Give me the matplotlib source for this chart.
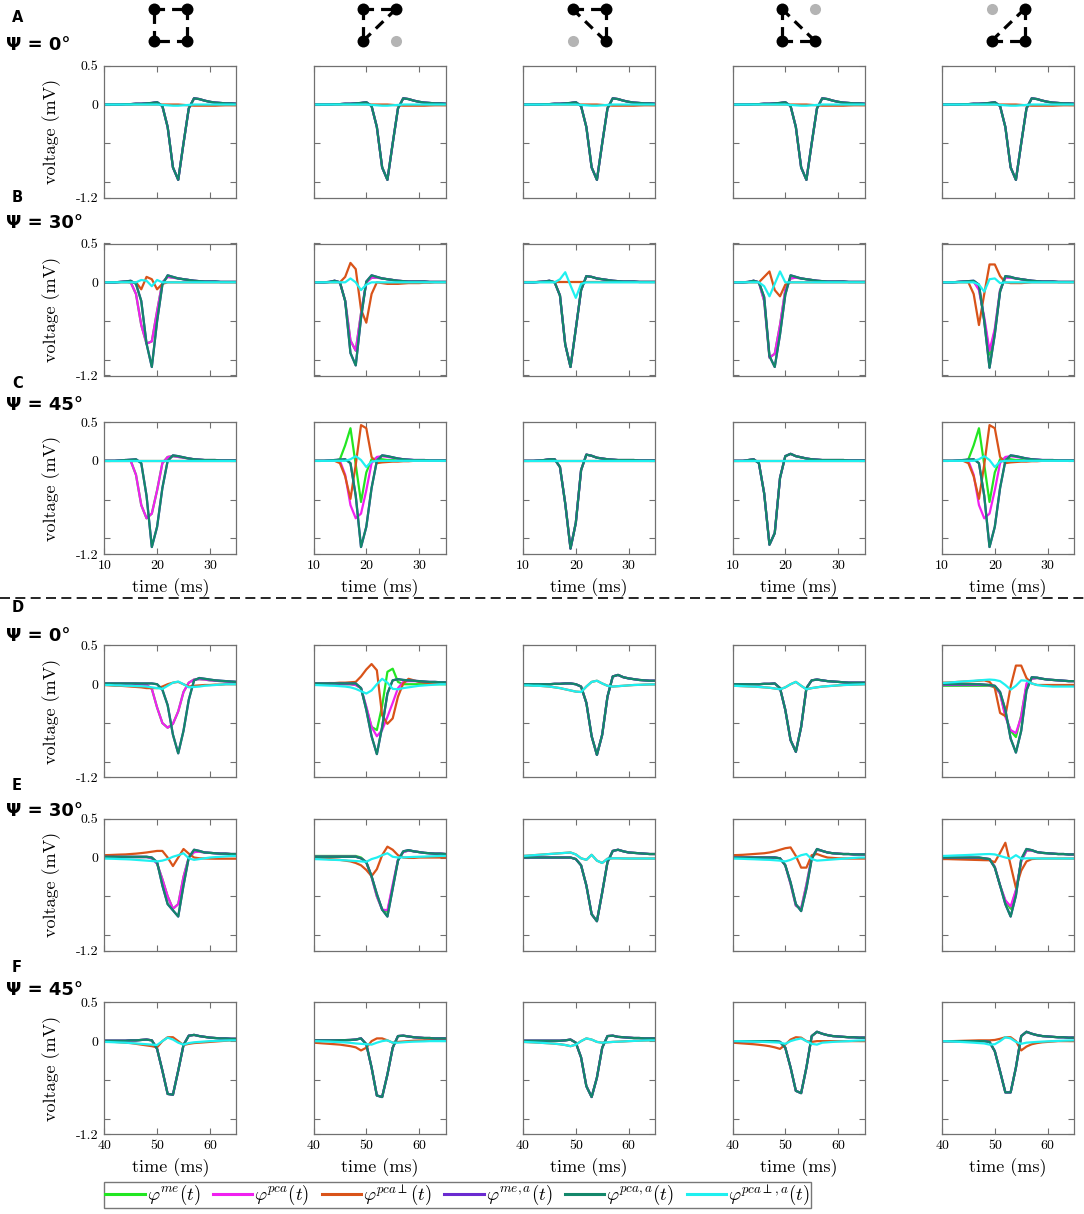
import matplotlib
matplotlib.use('Agg')
import matplotlib.pyplot as plt
from matplotlib.lines import Line2D

plt.rcParams['mathtext.fontset'] = 'cm'
plt.rcParams['axes.unicode_minus'] = False

# ---------------- data ----------------
t_top = [10, 11, 12, 13, 14, 15, 16, 17, 18, 19, 20, 21, 22, 23, 24, 25, 26, 27, 28, 29, 30, 31, 32, 33, 34, 35]
t_bot = [40, 41, 42, 43, 44, 45, 46, 47, 48, 49, 50, 51, 52, 53, 54, 55, 56, 57, 58, 59, 60, 61, 62, 63, 64, 65]
flat_top = [0.0] * 26

# Row A (Psi = 0, first setup)
a_main = [0, 0, 0, 0, 0.005, 0.005, 0.01, 0.01, 0.015, 0.02,
          0.03, -0.02, -0.29, -0.81, -0.97, -0.5, -0.05, 0.08, 0.07, 0.05,
          0.035, 0.025, 0.02, 0.015, 0.015, 0.01]
a_perp = [0, 0, 0, 0, 0, 0, 0, 0, 0, 0,
          0, 0, 0, 0, 0, -0.005, -0.01, -0.015, -0.015, -0.015,
          -0.015, -0.015, -0.012, -0.01, -0.01, -0.01]
a_perp_a = [0, 0, 0, 0, 0, 0, 0, 0, 0, 0,
            0, -0.005, -0.01, -0.015, -0.015, -0.01, -0.005, 0, 0, 0,
            0, 0, 0, 0, 0, 0]

# Row B (Psi = 30)
b1_pca_a = [0, 0, 0, 0.005, 0.01, 0.02, -0.02, -0.24, -0.79, -1.09,
            -0.5, -0.03, 0.09, 0.07, 0.05, 0.04, 0.03, 0.02, 0.015, 0.01,
            0.01, 0.01, 0.005, 0.005, 0.005, 0.005]
b1_pca = [0, 0, 0, 0.005, 0.01, 0.0, -0.15, -0.55, -0.79, -0.76,
          -0.37, 0.0, 0.07, 0.06, 0.05, 0.04, 0.03, 0.02, 0.015, 0.01,
          0.01, 0.01, 0.005, 0.005, 0.005, 0.005]
b1_perp = [0, 0, 0, 0, 0, 0, 0, -0.09, 0.07, 0.04,
           -0.09, -0.02, 0, 0, 0, 0, 0, 0, 0, 0,
           0, 0, 0, 0, 0, 0]
b1_perp_a = [0, 0, 0, 0, 0, 0, 0, 0.03, 0.02, -0.05,
             0.03, 0, 0, 0, 0, 0, 0, 0, 0, 0,
             0, 0, 0, 0, 0, 0]
b2_pca_a = [0, 0, 0, 0.005, 0.02, 0.0, -0.24, -0.91, -1.07, -0.46,
            0.01, 0.09, 0.07, 0.05, 0.04, 0.03, 0.02, 0.015, 0.01, 0.01,
            0.01, 0.01, 0.005, 0.005, 0.005, 0.005]
b2_pca = [0, 0, 0, 0.005, 0.02, 0.0, -0.24, -0.75, -0.88, -0.4,
          0.0, 0.06, 0.06, 0.05, 0.04, 0.03, 0.02, 0.015, 0.01, 0.01,
          0.01, 0.01, 0.005, 0.005, 0.005, 0.005]
b2_perp = [0, 0, 0, 0, 0, 0.0, 0.07, 0.25, 0.17, -0.35,
           -0.52, -0.15, 0.0, -0.01, -0.02, -0.02, -0.02, -0.015, -0.01, -0.01,
           -0.01, -0.005, -0.005, 0, 0, 0]
b2_perp_a = [0, 0, 0, 0, 0, 0, 0, 0.05, 0.0, -0.1,
             -0.03, 0, 0, 0, 0, 0, 0, 0, 0, 0,
             0, 0, 0, 0, 0, 0]
b3_pca_a = [0, 0, 0, 0.005, 0.01, 0.02, 0.0, -0.17, -0.8, -1.09,
            -0.6, -0.1, 0.08, 0.07, 0.05, 0.04, 0.03, 0.02, 0.015, 0.01,
            0.01, 0.01, 0.005, 0.005, 0.005, 0.005]
b3_perp_a = [0, 0, 0, 0, 0, 0, 0, 0.04, 0.13, -0.04,
             -0.2, -0.02, 0, 0, 0, 0, 0, 0, 0, 0,
             0, 0, 0, 0, 0, 0]
b4_pca_a = [0, 0, 0, 0.005, 0.02, 0.0, -0.19, -0.95, -1.09, -0.67,
            -0.16, 0.09, 0.07, 0.05, 0.04, 0.03, 0.02, 0.015, 0.01, 0.01,
            0.01, 0.01, 0.005, 0.005, 0.005, 0.005]
b4_pca = [0, 0, 0, 0.005, 0.02, 0.0, -0.24, -0.97, -0.92, -0.55,
          -0.1, 0.05, 0.06, 0.05, 0.04, 0.03, 0.02, 0.015, 0.01, 0.01,
          0.01, 0.01, 0.005, 0.005, 0.005, 0.005]
b4_perp = [0, 0, 0, 0, 0, 0, 0.07, 0.14, -0.1, -0.18,
           -0.03, 0, 0, 0, 0, 0, 0, 0, 0, 0,
           0, 0, 0, 0, 0, 0]
b4_perp_a = [0, 0, 0, 0, 0, 0, -0.05, -0.18, -0.02, 0.14,
             0.0, 0, 0, 0, 0, 0, 0, 0, 0, 0,
             0, 0, 0, 0, 0, 0]
b5_pca_a = [0, 0, 0, 0.005, 0.01, 0.015, 0.02, -0.03, -0.5, -1.1,
            -0.67, -0.12, 0.08, 0.07, 0.05, 0.04, 0.03, 0.02, 0.015, 0.01,
            0.01, 0.01, 0.005, 0.005, 0.005, 0.005]
b5_pca = [0, 0, 0, 0.005, 0.01, 0.01, 0.01, -0.1, -0.45, -0.88,
          -0.6, -0.1, 0.06, 0.06, 0.05, 0.04, 0.03, 0.02, 0.015, 0.01,
          0.01, 0.01, 0.005, 0.005, 0.005, 0.005]
b5_me = [0, 0, 0, 0.005, 0.01, 0.01, 0.01, -0.08, -0.48, -0.93,
         -0.62, -0.1, 0.07, 0.06, 0.05, 0.04, 0.03, 0.02, 0.015, 0.01,
         0.01, 0.01, 0.005, 0.005, 0.005, 0.005]
b5_perp = [0, 0, 0, 0, 0, 0.0, -0.15, -0.55, -0.15, 0.23,
           0.23, 0.08, 0.0, -0.01, -0.01, -0.01, -0.005, 0, 0, 0,
           0, 0, 0, 0, 0, 0]
b5_perp_a = [0, 0, 0, 0, 0, 0, 0, -0.03, -0.12, 0.04,
             0.05, -0.01, 0, 0, 0, 0, 0, 0, 0, 0,
             0, 0, 0, 0, 0, 0]

# Row C (Psi = 45)
c_pca_a = [0, 0, 0, 0.005, 0.01, 0.015, 0.02, -0.03, -0.45, -1.11,
           -0.85, -0.35, 0.0, 0.07, 0.06, 0.045, 0.03, 0.02, 0.015, 0.01,
           0.01, 0.01, 0.005, 0.005, 0.005, 0.005]
c_pca = [0, 0, 0, 0.005, 0.01, 0.0, -0.18, -0.57, -0.74, -0.68,
         -0.38, -0.03, 0.05, 0.06, 0.05, 0.04, 0.03, 0.02, 0.015, 0.01,
         0.01, 0.01, 0.005, 0.005, 0.005, 0.005]
c_me = [0, 0, 0, 0, 0.0, 0.02, 0.2, 0.42, -0.05, -0.53,
        -0.15, 0.02, 0.03, 0.02, 0.01, 0.01, 0.005, 0, 0, 0,
        0, 0, 0, 0, 0, 0]
c_perp = [0, 0, 0, 0, 0, -0.03, -0.2, -0.49, -0.05, 0.46,
          0.42, 0.05, -0.03, -0.02, -0.015, -0.01, -0.01, -0.005, -0.005, 0,
          0, 0, 0, 0, 0, 0]
c_perp_a = [0, 0, 0, 0, 0, 0, 0.0, 0.02, 0.06, 0.01,
            -0.08, -0.01, 0, 0, 0, 0, 0, 0, 0, 0,
            0, 0, 0, 0, 0, 0]
c3_pca_a = [0, 0, 0, 0.005, 0.01, 0.02, 0.02, -0.08, -0.55, -1.13,
            -0.8, -0.12, 0.08, 0.065, 0.04, 0.03, 0.02, 0.015, 0.01, 0.01,
            0.01, 0.01, 0.005, 0.005, 0.005, 0.005]
c4_pca_a = [0, 0, 0, 0.01, 0.02, -0.03, -0.42, -1.08, -0.93, -0.22,
            0.06, 0.09, 0.06, 0.045, 0.03, 0.02, 0.015, 0.01, 0.01, 0.01,
            0.01, 0.01, 0.005, 0.005, 0.005, 0.005]

# Row D (Psi = 0, second setup)
d1_pca_a = [0.01, 0.01, 0.01, 0.01, 0.01, 0.01, 0.01, 0.01, 0.01, 0.01,
            0.0, -0.07, -0.27, -0.65, -0.89, -0.6, -0.2, 0.05, 0.08, 0.07,
            0.06, 0.05, 0.045, 0.04, 0.035, 0.03]
d1_pca = [0.005, 0.005, 0.005, 0.005, 0.005, 0.005, 0.005, 0.0, -0.01, -0.06,
          -0.3, -0.5, -0.56, -0.51, -0.35, -0.1, 0.02, 0.06, 0.065, 0.06,
          0.05, 0.045, 0.04, 0.035, 0.03, 0.03]
d1_perp = [-0.01, -0.015, -0.02, -0.02, -0.025, -0.03, -0.035, -0.04, -0.05, -0.05,
           -0.05, -0.03, 0.0, 0.02, 0.03, 0.0, -0.03, -0.02, -0.015, -0.01,
           -0.01, -0.005, -0.005, 0.0, 0.0, 0.0]
d1_perp_a = [-0.01, -0.01, -0.015, -0.015, -0.02, -0.02, -0.025, -0.025, -0.03, -0.04,
             -0.05, -0.06, -0.02, 0.02, 0.035, 0.0, -0.04, -0.035, -0.03, -0.02,
             -0.015, -0.01, -0.005, 0.0, 0.0, 0.0]
d2_pca_a = [0.01, 0.01, 0.01, 0.01, 0.01, 0.01, 0.01, 0.01, 0.01, -0.05,
            -0.33, -0.67, -0.9, -0.55, -0.12, 0.05, 0.065, 0.055, 0.05, 0.045,
            0.04, 0.035, 0.03, 0.03, 0.025, 0.025]
d2_pca = [0.0, 0.0, 0.0, 0.0, 0.0, 0.0, 0.0, 0.0, -0.01, -0.05,
          -0.29, -0.55, -0.67, -0.59, -0.42, -0.24, -0.05, 0.03, 0.04, 0.04,
          0.035, 0.03, 0.025, 0.02, 0.02, 0.02]
d2_me = [0.0, 0.0, 0.0, 0.0, 0.0, 0.0, 0.0, 0.0, -0.01, -0.05,
         -0.3, -0.55, -0.59, -0.28, 0.16, 0.2, 0.03, 0.0, 0.0, 0.0,
         0.0, 0.0, 0.0, 0.0, 0.0, 0.0]
d2_perp = [0.01, 0.01, 0.01, 0.015, 0.015, 0.02, 0.02, 0.025, 0.03, 0.1,
           0.19, 0.26, 0.18, -0.4, -0.51, -0.44, -0.16, 0.01, 0.07, 0.05,
           0.03, 0.02, 0.015, 0.01, 0.01, 0.01]
d2_perp_a = [-0.01, -0.012, -0.015, -0.018, -0.02, -0.025, -0.03, -0.04, -0.06, -0.09,
             -0.12, -0.08, 0.0, 0.07, 0.02, -0.06, -0.065, -0.05, -0.04, -0.03,
             -0.02, -0.015, -0.01, -0.005, 0.0, 0.0]
d3_pca_a = [0.0, 0.0, 0.0, 0.0, 0.0, 0.0, 0.005, 0.005, 0.01, 0.01,
            0.0, -0.03, -0.24, -0.67, -0.91, -0.65, -0.16, 0.1, 0.12, 0.09,
            0.075, 0.065, 0.055, 0.05, 0.045, 0.045]
d3_perp_a = [-0.015, -0.015, -0.02, -0.02, -0.025, -0.03, -0.04, -0.05, -0.065, -0.08,
             -0.095, -0.1, -0.03, 0.03, 0.045, 0.01, -0.02, -0.03, -0.025, -0.02,
             -0.015, -0.01, -0.008, -0.005, -0.003, -0.002]
d4_pca_a = [0.0, 0.0, 0.0, 0.0, 0.0, 0.0, 0.005, 0.005, 0.01, -0.05,
            -0.33, -0.72, -0.87, -0.55, -0.05, 0.05, 0.06, 0.05, 0.04, 0.035,
            0.03, 0.025, 0.02, 0.02, 0.02, 0.02]
d4_perp_a = [-0.02, -0.022, -0.025, -0.028, -0.03, -0.035, -0.04, -0.045, -0.055, -0.065,
             -0.04, 0.0, 0.03, -0.02, -0.065, -0.05, -0.04, -0.03, -0.025, -0.02,
             -0.015, -0.01, -0.008, -0.005, -0.003, 0.0]
d5_pca_a = [0.0, 0.0, 0.0, 0.0, 0.0, 0.0, 0.0, 0.0, -0.005, -0.01,
            -0.02, -0.1, -0.33, -0.7, -0.88, -0.6, -0.08, 0.09, 0.085, 0.07,
            0.06, 0.055, 0.05, 0.045, 0.04, 0.04]
d5_pca = [-0.01, -0.01, -0.01, -0.01, -0.01, -0.01, -0.01, -0.01, -0.01, -0.015,
          -0.03, -0.12, -0.42, -0.59, -0.63, -0.42, 0.01, 0.07, 0.08, 0.07,
          0.06, 0.055, 0.05, 0.045, 0.04, 0.04]
d5_me = [-0.02, -0.02, -0.02, -0.02, -0.02, -0.02, -0.02, -0.02, -0.02, -0.02,
         -0.04, -0.12, -0.4, -0.6, -0.68, -0.4, -0.02, 0.07, 0.08, 0.07,
         0.06, 0.055, 0.05, 0.045, 0.04, 0.04]
d5_perp = [0.02, 0.022, 0.025, 0.03, 0.033, 0.036, 0.04, 0.045, 0.05, 0.03,
           -0.05, -0.37, -0.41, -0.03, 0.24, 0.24, 0.08, 0.01, -0.01, -0.01,
           -0.01, -0.01, -0.01, -0.01, -0.01, -0.01]
d5_perp_a = [0.015, 0.02, 0.025, 0.03, 0.035, 0.04, 0.045, 0.05, 0.055, 0.06,
             0.055, 0.04, -0.01, -0.07, -0.02, 0.05, 0.045, 0.01, -0.01, -0.02,
             -0.025, -0.03, -0.03, -0.03, -0.03, -0.03]

# Row E (Psi = 30, second setup)
e1_pca_a = [0.01, 0.01, 0.01, 0.01, 0.01, 0.01, 0.01, 0.01, 0.01, 0.0,
            -0.06, -0.36, -0.6, -0.68, -0.76, -0.36, 0.0, 0.1, 0.085, 0.065,
            0.06, 0.055, 0.05, 0.05, 0.045, 0.045]
e1_pca = [0.005, 0.005, 0.005, 0.005, 0.005, 0.005, 0.005, 0.005, 0.005, -0.01,
          -0.08, -0.28, -0.5, -0.66, -0.6, -0.25, 0.0, 0.07, 0.075, 0.065,
          0.06, 0.055, 0.05, 0.05, 0.045, 0.045]
e1_perp = [0.03, 0.032, 0.035, 0.038, 0.04, 0.045, 0.05, 0.057, 0.065, 0.075,
           0.085, 0.085, 0.0, -0.11, 0.0, 0.11, 0.05, 0.0, -0.01, -0.012,
           -0.014, -0.015, -0.015, -0.015, -0.015, -0.015]
e1_perp_a = [-0.013, -0.015, -0.017, -0.02, -0.022, -0.025, -0.03, -0.035, -0.04, -0.045,
             -0.05, -0.04, -0.02, 0.01, 0.03, 0.055, -0.01, -0.03, -0.02, -0.01,
             0.0, 0.005, 0.01, 0.015, 0.02, 0.02]
e2_pca_a = [0.01, 0.01, 0.01, 0.01, 0.01, 0.01, 0.01, 0.01, 0.01, -0.01,
            -0.06, -0.24, -0.47, -0.67, -0.76, -0.4, -0.04, 0.08, 0.095, 0.08,
            0.07, 0.06, 0.055, 0.05, 0.05, 0.045]
e2_pca = [0.01, 0.01, 0.01, 0.01, 0.01, 0.01, 0.01, 0.01, 0.01, -0.01,
          -0.06, -0.25, -0.5, -0.67, -0.68, -0.35, -0.03, 0.07, 0.09, 0.08,
          0.07, 0.06, 0.055, 0.05, 0.05, 0.045]
e2_me = [0.02, 0.02, 0.02, 0.02, 0.02, 0.02, 0.02, 0.02, 0.02, 0.0,
         -0.06, -0.25, -0.5, -0.67, -0.7, -0.37, -0.03, 0.07, 0.09, 0.08,
         0.07, 0.06, 0.055, 0.05, 0.05, 0.045]
e2_perp = [-0.01, -0.012, -0.015, -0.02, -0.025, -0.03, -0.04, -0.05, -0.07, -0.1,
           -0.16, -0.24, -0.15, 0.03, 0.14, 0.1, 0.03, 0.0, -0.005, -0.005,
           0.0, 0.0, 0.0, 0.0, 0.0, 0.0]
e2_perp_a = [-0.02, -0.022, -0.025, -0.028, -0.03, -0.033, -0.036, -0.04, -0.045, -0.05,
             -0.055, -0.02, 0.0, 0.03, 0.055, 0.01, 0.0, 0.002, 0.005, 0.008,
             0.01, 0.012, 0.015, 0.017, 0.02, 0.02]
e3_pca_a = [0.0, 0.0, 0.0, 0.0, 0.0, 0.0, 0.0, 0.0, 0.0, 0.0,
            -0.02, -0.1, -0.36, -0.73, -0.82, -0.45, -0.06, 0.085, 0.1, 0.08,
            0.065, 0.06, 0.055, 0.05, 0.045, 0.045]
e3_perp_a = [0.02, 0.025, 0.03, 0.035, 0.04, 0.045, 0.05, 0.055, 0.06, 0.065,
             0.04, -0.01, -0.03, 0.035, -0.04, -0.07, -0.015, -0.01, -0.01, -0.012,
             -0.013, -0.013, -0.013, -0.013, -0.013, -0.013]
e4_pca_a = [0.0, 0.0, 0.0, 0.0, 0.0, 0.0, 0.0, 0.0, 0.0, -0.01,
            -0.1, -0.32, -0.6, -0.69, -0.4, -0.02, 0.11, 0.085, 0.065, 0.055,
            0.05, 0.045, 0.045, 0.04, 0.04, 0.04]
e4_pca = [0.0, 0.0, 0.0, 0.0, 0.0, 0.0, 0.0, 0.0, 0.0, -0.01,
          -0.1, -0.34, -0.62, -0.66, -0.35, 0.0, 0.1, 0.085, 0.065, 0.055,
          0.05, 0.045, 0.045, 0.04, 0.04, 0.04]
e4_perp = [0.03, 0.032, 0.035, 0.04, 0.045, 0.05, 0.055, 0.065, 0.08, 0.1,
           0.12, 0.13, 0.02, -0.13, -0.13, 0.03, 0.045, 0.02, 0.0, -0.005,
           -0.01, -0.012, -0.013, -0.013, -0.013, -0.013]
e4_perp_a = [-0.013, -0.015, -0.017, -0.02, -0.022, -0.025, -0.028, -0.03, -0.035, -0.04,
             -0.05, -0.03, 0.0, 0.03, 0.045, -0.02, -0.04, -0.035, -0.03, -0.025,
             -0.02, -0.015, -0.01, -0.005, 0.0, 0.0]
e5_pca_a = [0.0, 0.0, 0.0, 0.0, 0.0, 0.0, 0.0, 0.0, -0.01, -0.02,
            -0.13, -0.36, -0.6, -0.76, -0.49, -0.02, 0.11, 0.095, 0.07, 0.06,
            0.055, 0.05, 0.045, 0.045, 0.04, 0.04]
e5_pca = [-0.01, -0.01, -0.01, -0.01, -0.01, -0.01, -0.01, -0.01, -0.015, -0.02,
          -0.12, -0.36, -0.55, -0.63, -0.42, -0.05, 0.09, 0.09, 0.07, 0.06,
          0.055, 0.05, 0.045, 0.045, 0.04, 0.04]
e5_me = [-0.01, -0.01, -0.01, -0.01, -0.01, -0.01, -0.01, -0.01, -0.015, -0.02,
         -0.12, -0.36, -0.56, -0.66, -0.43, -0.05, 0.09, 0.09, 0.07, 0.06,
         0.055, 0.05, 0.045, 0.045, 0.04, 0.04]
e5_perp = [-0.02, -0.02, -0.022, -0.024, -0.026, -0.028, -0.03, -0.032, -0.034, -0.035,
           -0.06, 0.06, 0.19, -0.1, -0.39, -0.17, -0.05, -0.02, -0.015, -0.013,
           -0.013, -0.013, -0.013, -0.013, -0.013, -0.013]
e5_perp_a = [0.02, 0.022, 0.025, 0.028, 0.03, 0.033, 0.036, 0.04, 0.043, 0.045,
             0.04, 0.02, 0.0, -0.015, 0.03, -0.013, -0.01, -0.01, -0.012, -0.013,
             -0.013, -0.013, -0.013, -0.013, -0.013, -0.013]

# Row F (Psi = 45, second setup)
f1_pca_a = [0.005, 0.005, 0.005, 0.005, 0.005, 0.01, 0.01, 0.015, 0.02, 0.01,
            -0.1, -0.38, -0.68, -0.69, -0.38, -0.05, 0.07, 0.08, 0.065, 0.055,
            0.045, 0.04, 0.035, 0.035, 0.03, 0.03]
f1_perp = [0.0, -0.005, -0.01, -0.015, -0.02, -0.025, -0.035, -0.045, -0.055, -0.065,
           -0.08, 0.0, 0.05, 0.05, 0.0, -0.05, -0.035, -0.025, -0.02, -0.015,
           -0.01, -0.005, 0.0, 0.005, 0.01, 0.01]
f1_perp_a = [-0.01, -0.012, -0.015, -0.018, -0.02, -0.025, -0.03, -0.035, -0.04, -0.045,
             -0.05, 0.0, 0.045, 0.02, -0.02, -0.045, -0.025, -0.015, -0.01, -0.005,
             0.0, 0.003, 0.005, 0.008, 0.01, 0.01]
f2_pca_a = [0.01, 0.01, 0.01, 0.01, 0.01, 0.012, 0.013, 0.015, 0.02, 0.035,
            -0.04, -0.34, -0.7, -0.72, -0.43, -0.085, 0.065, 0.07, 0.06, 0.05,
            0.045, 0.04, 0.04, 0.035, 0.035, 0.035]
f2_perp = [-0.02, -0.025, -0.03, -0.035, -0.04, -0.045, -0.055, -0.065, -0.08, -0.12,
           -0.085, 0.0, 0.035, 0.035, 0.01, -0.02, -0.01, -0.005, 0.0, 0.005,
           0.008, 0.01, 0.012, 0.013, 0.015, 0.015]
f2_perp_a = [0.0, -0.002, -0.004, -0.006, -0.01, -0.013, -0.017, -0.022, -0.03, -0.035,
             -0.04, -0.045, -0.02, 0.0, 0.01, -0.02, -0.02, -0.015, -0.01, -0.007,
             -0.005, -0.003, 0.0, 0.0, 0.0, 0.0]
f3_pca_a = [0.005, 0.005, 0.005, 0.005, 0.005, 0.005, 0.005, 0.005, 0.01, 0.02,
            -0.02, -0.21, -0.58, -0.72, -0.47, -0.085, 0.065, 0.07, 0.055, 0.05,
            0.045, 0.04, 0.04, 0.035, 0.035, 0.035]
f3_perp_a = [-0.01, -0.013, -0.016, -0.02, -0.024, -0.028, -0.033, -0.04, -0.05, -0.065,
             -0.045, 0.0, 0.035, 0.02, -0.01, -0.02, -0.015, -0.01, -0.007, -0.004,
             0.0, 0.003, 0.005, 0.008, 0.01, 0.01]
f4_pca_a = [0.0, 0.0, 0.0, 0.0, 0.0, 0.0, 0.0, 0.0, 0.0, -0.01,
            -0.085, -0.34, -0.64, -0.67, -0.34, 0.065, 0.12, 0.095, 0.077, 0.065,
            0.06, 0.055, 0.05, 0.05, 0.045, 0.045]
f4_perp = [-0.02, -0.025, -0.03, -0.035, -0.04, -0.047, -0.055, -0.065, -0.08, -0.1,
           -0.045, 0.02, 0.05, 0.045, 0.0, -0.01, 0.0, 0.0, 0.0, 0.0,
           0.0, 0.0, 0.0, 0.0, 0.0, 0.0]
f4_perp_a = [0.0, 0.0, -0.002, -0.004, -0.006, -0.008, -0.01, -0.013, -0.016, -0.02,
             -0.035, 0.0, 0.02, 0.035, 0.0, -0.035, -0.045, -0.02, -0.015, -0.01,
             -0.006, -0.003, 0.0, 0.005, 0.008, 0.01]
f5_pca_a = [0.0, 0.0, 0.0, 0.0, 0.0, 0.0, 0.0, 0.0, 0.0, -0.01,
            -0.13, -0.39, -0.66, -0.66, -0.34, 0.065, 0.12, 0.095, 0.077, 0.065,
            0.06, 0.055, 0.05, 0.05, 0.045, 0.045]
f5_perp = [0.0, 0.0, 0.0, 0.002, 0.004, 0.006, 0.008, 0.01, 0.01, 0.01,
           0.015, 0.03, 0.05, 0.05, 0.0, -0.12, -0.07, -0.04, -0.025, -0.015,
           -0.01, -0.005, 0.0, 0.0, 0.0, 0.0]
f5_perp_a = [0.0, -0.002, -0.005, -0.008, -0.012, -0.016, -0.02, -0.025, -0.03, -0.045,
             -0.04, 0.0, 0.05, 0.035, -0.01, -0.035, -0.02, -0.015, -0.01, -0.006,
             -0.003, 0.0, 0.003, 0.006, 0.008, 0.01]

series_labels = [r'$\varphi^{me}(t)$', r'$\varphi^{pca}(t)$', r'$\varphi^{pca\perp}(t)$',
                 r'$\varphi^{me,a}(t)$', r'$\varphi^{pca,a}(t)$', r'$\varphi^{pca\perp,a}(t)$']
row_psi = ['\u03a8 = 0\u00b0', '\u03a8 = 30\u00b0', '\u03a8 = 45\u00b0',
           '\u03a8 = 0\u00b0', '\u03a8 = 30\u00b0', '\u03a8 = 45\u00b0']
row_letters = ['A', 'B', 'C', 'D', 'E', 'F']
xticks_top = [10, 20, 30]
xticks_bot = [40, 50, 60]
yticks = [-1.2, -1.0, -0.5, 0.0, 0.5]
ytick_labels = ['-1.2', '', '', '0', '0.5']

# series order per panel: (me, pca, pca_perp, me_a, pca_a, pca_perp_a)
panels = [
    [(a_main, a_main, a_perp, a_main, a_main, a_perp_a)] * 5,
    [(b1_pca, b1_pca, b1_perp, b1_pca_a, b1_pca_a, b1_perp_a),
     (b2_pca, b2_pca, b2_perp, b2_pca_a, b2_pca_a, b2_perp_a),
     (b3_pca_a, b3_pca_a, flat_top, b3_pca_a, b3_pca_a, b3_perp_a),
     (b4_pca, b4_pca, b4_perp, b4_pca_a, b4_pca_a, b4_perp_a),
     (b5_me, b5_pca, b5_perp, b5_pca_a, b5_pca_a, b5_perp_a)],
    [(c_pca, c_pca, flat_top, c_pca_a, c_pca_a, flat_top),
     (c_me, c_pca, c_perp, c_pca_a, c_pca_a, c_perp_a),
     (c3_pca_a, c3_pca_a, flat_top, c3_pca_a, c3_pca_a, flat_top),
     (c4_pca_a, c4_pca_a, flat_top, c4_pca_a, c4_pca_a, flat_top),
     (c_me, c_pca, c_perp, c_pca_a, c_pca_a, c_perp_a)],
    [(d1_pca, d1_pca, d1_perp, d1_pca_a, d1_pca_a, d1_perp_a),
     (d2_me, d2_pca, d2_perp, d2_pca_a, d2_pca_a, d2_perp_a),
     (d3_pca_a, d3_pca_a, d3_perp_a, d3_pca_a, d3_pca_a, d3_perp_a),
     (d4_pca_a, d4_pca_a, d4_perp_a, d4_pca_a, d4_pca_a, d4_perp_a),
     (d5_me, d5_pca, d5_perp, d5_pca_a, d5_pca_a, d5_perp_a)],
    [(e1_pca, e1_pca, e1_perp, e1_pca_a, e1_pca_a, e1_perp_a),
     (e2_me, e2_pca, e2_perp, e2_pca_a, e2_pca_a, e2_perp_a),
     (e3_pca_a, e3_pca_a, e3_perp_a, e3_pca_a, e3_pca_a, e3_perp_a),
     (e4_pca, e4_pca, e4_perp, e4_pca_a, e4_pca_a, e4_perp_a),
     (e5_me, e5_pca, e5_perp, e5_pca_a, e5_pca_a, e5_perp_a)],
    [(f1_pca_a, f1_pca_a, f1_perp, f1_pca_a, f1_pca_a, f1_perp_a),
     (f2_pca_a, f2_pca_a, f2_perp, f2_pca_a, f2_pca_a, f2_perp_a),
     (f3_pca_a, f3_pca_a, f3_perp_a, f3_pca_a, f3_pca_a, f3_perp_a),
     (f4_pca_a, f4_pca_a, f4_perp, f4_pca_a, f4_pca_a, f4_perp_a),
     (f5_pca_a, f5_pca_a, f5_perp, f5_pca_a, f5_pca_a, f5_perp_a)],
]

# electrode icons: which corners are active, and which pairs are joined
icon_active = [['TL', 'TR', 'BL', 'BR'], ['TL', 'TR', 'BL'], ['TL', 'TR', 'BR'],
               ['TL', 'BL', 'BR'], ['TR', 'BL', 'BR']]
icon_inactive = [[], ['BR'], ['BL'], ['TR'], ['TL']]
icon_links = [[('TL', 'TR'), ('TR', 'BR'), ('BR', 'BL'), ('BL', 'TL')],
              [('TL', 'TR'), ('TR', 'BL'), ('TL', 'BL')],
              [('TL', 'TR'), ('TR', 'BR'), ('TL', 'BR')],
              [('TL', 'BL'), ('BL', 'BR'), ('TL', 'BR')],
              [('TR', 'BR'), ('BL', 'BR'), ('TR', 'BL')]]

# ---------------- style / layout ----------------
colors = ['#22e622', '#f020f0', '#d95319', '#6a2ad0', '#13876a', '#1ff0f0']
frame_col = '#707070'
W, H, DPI = 1084, 1214, 100
col_left = [104.3, 313.5, 523.0, 732.5, 942.0]
row_top = [65.7, 243.5, 422.0, 645.4, 818.7, 1002.3]
BOX = 132.0
letter_y = [17, 197, 383, 608, 785, 968]
psi_y = [45, 223, 405, 636, 811, 990]
serif = 'cmr10'

fig = plt.figure(figsize=(W / DPI, H / DPI), dpi=DPI)
fig.patch.set_facecolor('white')

for r in range(6):
    t = t_top if r < 3 else t_bot
    xt = xticks_top if r < 3 else xticks_bot
    for c in range(5):
        ax = fig.add_axes([col_left[c] / W, 1 - (row_top[r] + BOX) / H, BOX / W, BOX / H])
        for vals, col in zip(panels[r][c], colors):
            ax.plot(t, vals, color=col, lw=1.6)
        ax.set_xlim(t[0], t[-1])
        ax.set_ylim(-1.2, 0.5)
        ax.set_xticks(xt)
        ax.set_yticks(yticks)
        ax.tick_params(direction='in', length=4, width=0.8, color=frame_col,
                       top=True, right=True, labelsize=10, pad=4)
        for sp in ax.spines.values():
            sp.set_color(frame_col)
            sp.set_linewidth(0.9)
        if c == 0:
            ax.set_yticklabels(ytick_labels, fontfamily=serif, fontsize=10)
            ax.text(-0.40, 0.5, 'voltage (mV)', rotation=90, transform=ax.transAxes,
                    ha='center', va='center', fontfamily=serif, fontsize=13)
        else:
            ax.set_yticklabels([])
        if r in (2, 5):
            ax.set_xticklabels([str(v) for v in xt], fontfamily=serif, fontsize=10)
            ax.text(0.5, -0.255, 'time (ms)', transform=ax.transAxes,
                    ha='center', va='center', fontfamily=serif, fontsize=13)
        else:
            ax.set_xticklabels([])

# overlay in pixel coordinates for labels, icons and separator
ov = fig.add_axes([0, 0, 1, 1], zorder=-1)
ov.set_xlim(0, W)
ov.set_ylim(H, 0)
ov.axis('off')

for r in range(6):
    ov.text(12, letter_y[r], row_letters[r], fontsize=10.5, fontweight='bold',
            family='DejaVu Sans', ha='left', va='center')
    ov.text(6, psi_y[r], row_psi[r], fontsize=13, fontweight='bold',
            family='DejaVu Sans', ha='left', va='center')

ov.plot([0, W], [598, 598], color='black', lw=1.2, dashes=(6, 3.2))

for c in range(5):
    cx = col_left[c] + BOX / 2
    pts = {'TL': (cx - 16.5, 9), 'TR': (cx + 16.5, 9), 'BL': (cx - 16.5, 41), 'BR': (cx + 16.5, 41)}
    for a, b in icon_links[c]:
        (x0, y0), (x1, y1) = pts[a], pts[b]
        ln, = ov.plot([x0, x1], [y0, y1], color='black', lw=2.3, solid_capstyle='butt')
        ln.set_dashes((3.3, 2.2))
    for k in icon_inactive[c]:
        ov.plot(*pts[k], 'o', ms=8.0, color='#b4b4b4', mec='none')
    for k in icon_active[c]:
        ov.plot(*pts[k], 'o', ms=8.6, color='black', mec='none')

handles = [Line2D([0], [0], color=col, lw=2.2) for col in colors]
leg = fig.legend(handles, series_labels, loc='upper left',
                 bbox_to_anchor=(104.3 / W, 1 - 1182 / H), bbox_transform=fig.transFigure,
                 ncol=6, fontsize=13.5, handlelength=2.1, handletextpad=0.12,
                 columnspacing=0.65, borderpad=0.05, borderaxespad=0,
                 frameon=True, fancybox=False, edgecolor='#555555')
leg.get_frame().set_linewidth(1.0)

fig.savefig('out.png', dpi=DPI, facecolor='white')
